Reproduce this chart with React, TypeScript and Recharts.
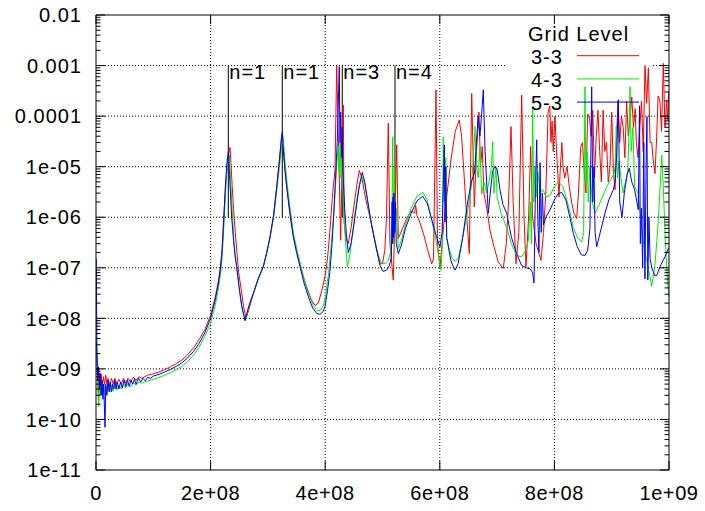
import React from 'react';
import { LineChart, Line, XAxis, YAxis, ReferenceLine, Legend } from 'recharts';

// frequency in MHz, response value
const SERIES_3_3: [number, number][] = [[0.5,3.5e-9],[1.5,1.5e-9],[3,6e-10],[4.5,2e-10],[6,8e-10],[7.5,5e-10],[9,8e-10],[11,4.5e-10],[13,7e-10],[15,5e-10],[17,7.5e-10],[19,5e-10],[21,6.5e-10],[24,4.5e-10],[27,6.5e-10],[30,5e-10],[33,6.5e-10],[36,5e-10],[40,6.2e-10],[44,5e-10],[48,6.5e-10],[52,5.2e-10],[56,6.5e-10],[60,5.5e-10],[65,6.8e-10],[70,6e-10],[75,7e-10],[80,6.5e-10],[90,7.5e-10],[100,8e-10],[110,8.7e-10],[120,9.7e-10],[130,1.1e-9],[140,1.27e-9],[150,1.5e-9],[160,1.9e-9],[170,2.6e-9],[180,3.8e-9],[190,6e-9],[200,1.15e-8],[208,2.6e-8],[213,5e-8],[217,1e-7],[220,2.3e-7],[223,1e-6],[226,4e-6],[229,1e-5],[231.5,1.8e-5],[233.9,2.4e-5],[235.5,1.2e-5],[237.5,4.5e-6],[240,1.5e-6],[243,5e-7],[246,2e-7],[249,8e-8],[253,4e-8],[258,1.6e-8],[262,1e-8],[266,1.4e-8],[270,2e-8],[274.5,3e-8],[283,6e-8],[292,1.05e-7],[298,2e-7],[303.7,4e-7],[310,1.1e-6],[315.4,4e-6],[320,1.3e-5],[324,4.3e-5],[327,2e-5],[330,8.5e-6],[333,4e-6],[338,1.3e-6],[344,4.5e-7],[350,2.2e-7],[356,1.2e-7],[363,6e-8],[370,3.5e-8],[376,2.3e-8],[382.2,1.8e-8],[388,2e-8],[394,3.5e-8],[400,7e-8],[404,1.5e-7],[408,5e-7],[413,3e-6],[417.1,8.5e-6],[420.1,1e-3],[427,3.5e-7],[431.6,1.65e-4],[433,8e-7],[436,4e-7],[440.3,3e-7],[445,6e-7],[450,1.6e-6],[455,4.2e-6],[459.5,8.4e-6],[464,6e-6],[470,2.5e-6],[480,8e-7],[488,3e-7],[495.6,1.2e-7],[500,1.2e-7],[504,2.2e-7],[507,1e-6],[510.1,7.2e-5],[513,3e-7],[518.8,5.7e-8],[524.8,2.7e-5],[527.6,3.8e-7],[535,6e-7],[543,1e-6],[551,1.35e-6],[556,1.2e-6],[558,1.7e-6],[560,1.1e-6],[565,8e-7],[572,4.5e-7],[579,2.2e-7],[585.9,1.2e-7],[589,1.5e-7],[593.4,3.3e-4],[596,3e-7],[600.3,1e-7],[604,3e-7],[608,1e-6],[614,4e-6],[620,1.5e-5],[627,5e-5],[634,8.4e-5],[638,4e-5],[642,8e-6],[646,1.5e-6],[651.5,1.9e-7],[655.7,2.8e-4],[660.2,1.6e-6],[664,2e-5],[668.4,1.2e-4],[671,1e-5],[674,2.5e-5],[677,3e-6],[682,1.5e-6],[687.6,5.5e-7],[695,2.5e-7],[702,1.3e-7],[710.8,9.7e-8],[716,3e-7],[720,2e-6],[724.3,6.2e-5],[728,2e-6],[733,1.2e-7],[738,5e-7],[742.9,2.6e-4],[747,1e-6],[750.4,1.05e-7],[755,1e-6],[758.6,2.5e-5],[762,1e-6],[768,3e-7],[776.6,1.4e-7],[781,5e-7],[785,3e-6],[789,1.2e-4],[792,1.6e-4],[794,3e-5],[796,8e-5],[798,2e-5],[801,1e-4],[803,3e-5],[806,7e-6],[808,2.5e-6],[810,8e-6],[813,3e-5],[815,1e-5],[818,6e-6],[822,1e-5],[826,4e-6],[830,2e-6],[834,1.2e-6],[838.9,9.4e-7],[842,3e-6],[846,2.5e-5],[849,3e-5],[852,8e-6],[855,3e-6],[858,1.1e-4],[861,1e-4],[864,4e-5],[867,1.3e-4],[870,6e-6],[873,4e-5],[876,1.3e-4],[879,2e-5],[882,5e-6],[885,1.3e-4],[888,2e-5],[891,3e-5],[894,5e-6],[897,1e-5],[900,1.2e-4],[903,8e-6],[905.8,3.5e-6],[908,3e-5],[911,2e-4],[914,3e-5],[917,1e-4],[920,6e-5],[923,1.5e-5],[926,2e-4],[929,4e-5],[932,9e-5],[935,2.4e-4],[938,6e-5],[941,1.4e-4],[943,3e-5],[946,1.5e-5],[949,6e-5],[952,2e-4],[955,2e-5],[958.1,1e-3],[961,1.8e-4],[964,9e-4],[967,3e-5],[970,3e-5],[972,1.5e-5],[975.6,7.3e-6],[978.5,4e-5],[981,2.5e-4],[984,2e-4],[987,5e-5],[990,1.1e-3],[993,6e-5],[996,2e-4],[998,8e-5],[999.5,3e-4]];

const SERIES_4_3: [number, number][] = [[0.5,3.5e-9],[1.5,2e-9],[3,7e-10],[4.5,1.8e-10],[6,6e-10],[7.5,3e-10],[9,5.5e-10],[11,3e-10],[13,5e-10],[15,3.2e-10],[17,4.5e-10],[19,3.5e-10],[21,5e-10],[24,3.5e-10],[27,4.8e-10],[30,3.6e-10],[33,5e-10],[36,3.8e-10],[40,4.8e-10],[44,4e-10],[48,5e-10],[52,4.2e-10],[56,5.2e-10],[60,4.4e-10],[65,5.3e-10],[70,4.8e-10],[75,5.5e-10],[80,5.2e-10],[90,5.8e-10],[100,6.2e-10],[110,6.8e-10],[120,7.5e-10],[130,8.5e-10],[140,9.7e-10],[150,1.12e-9],[160,1.4e-9],[170,1.85e-9],[180,2.7e-9],[190,4.4e-9],[200,8e-9],[208,1.8e-8],[213,3.5e-8],[217,7e-8],[220,1.5e-7],[223,6e-7],[226,3e-6],[229,1e-5],[232.6,1.7e-5],[234.5,7e-6],[237.5,1.5e-6],[241,3e-7],[244,1.4e-7],[246,9e-8],[251,3e-8],[255,1.5e-8],[261,9e-9],[266,1.6e-8],[270,2.2e-8],[275,3.2e-8],[284,6.5e-8],[292,1.1e-7],[298,2e-7],[304,4e-7],[310,1e-6],[316,3.8e-6],[321,1.2e-5],[324,2.5e-5],[326.3,3.9e-5],[328.5,2e-5],[331,9e-6],[334,4.2e-6],[339,1.4e-6],[345,4.5e-7],[351,2.2e-7],[357,1.15e-7],[364,5.5e-8],[371,3e-8],[379,1.8e-8],[386,1.4e-8],[392,1.45e-8],[397,1.8e-8],[401,3e-8],[406,8e-8],[410,2.5e-7],[414,8e-7],[418,4e-6],[421,1.5e-5],[423,2.5e-5],[424.5,8e-6],[426,3e-5],[427.5,6e-6],[429,2.1e-5],[430.5,4e-6],[432,1.5e-6],[435,4e-7],[438.6,1.05e-7],[442,1.5e-7],[447,4e-7],[452,1.2e-6],[458,3.5e-6],[464.7,6.3e-6],[469,4.5e-6],[475,1.7e-6],[482,6e-7],[490,2.2e-7],[497,1.3e-7],[504.4,1.2e-7],[510,1.4e-7],[514,2e-7],[516.5,1e-6],[517.8,3.9e-5],[519,3e-7],[520.5,1e-5],[522,5e-7],[524,1.5e-6],[527.6,2.4e-7],[533,3.5e-7],[540,7e-7],[550,1.5e-6],[560,2.6e-6],[570.2,3.1e-6],[578,2.2e-6],[586,8.5e-7],[594,3.2e-7],[600,1.2e-7],[602.1,9e-8],[604.5,3e-7],[606.1,3.9e-5],[607.5,2e-6],[609,6e-6],[610.5,1.5e-5],[612,4e-7],[616,2.5e-7],[621,1.6e-7],[626.5,1.35e-7],[632,1.5e-7],[640,4e-7],[648,1.2e-6],[655,4e-6],[658,1.2e-5],[661.4,6.2e-5],[664,1e-5],[667,6e-6],[670,2.5e-5],[673.1,2.9e-6],[677,5e-6],[682,3e-6],[687,6e-6],[690,1e-5],[692.3,3.1e-5],[694.5,3e-6],[698,1e-5],[700,2.5e-6],[707,1.2e-6],[716.7,6.3e-7],[725,3e-7],[734.2,1.75e-7],[742.9,1.65e-7],[750,2.2e-7],[754.5,3.5e-7],[758,2e-6],[760,3e-7],[762.1,1.5e-4],[764,2e-6],[766,1e-5],[768,2.5e-6],[771,8e-6],[775,3e-6],[780,3.5e-6],[785.3,2.5e-6],[792.3,2.7e-6],[800,4e-6],[806.8,5e-6],[815,4e-6],[825,1.6e-6],[833,6.3e-7],[840,4e-7],[847.6,3.2e-7],[851,5e-7],[853.4,3.8e-4],[855,5e-6],[857,2e-5],[859,2e-6],[862,1e-5],[866,2e-6],[870.9,1.2e-6],[880,2e-6],[891.3,4e-6],[900,6e-6],[904,7.3e-6],[906,1e-5],[908,6.4e-5],[910,6e-6],[913,1.3e-5],[916,6e-6],[920,3e-6],[924,5e-6],[928,8e-6],[930,4e-5],[932,3.8e-4],[934,2e-5],[937,6e-5],[940,4e-6],[946,3e-6],[952.3,6.3e-7],[958,2e-7],[963.9,1e-7],[969.8,4.3e-8],[975,1e-7],[980,5e-7],[984.3,3.5e-6],[987.3,1.7e-5],[990,4e-6],[993,5e-7],[996,1e-7],[999.5,2.7e-8]];

const SERIES_5_3: [number, number][] = [[0.5,1.5e-7],[1.5,3e-9],[3,6e-10],[4.5,1.1e-9],[6,4e-10],[7.5,8e-10],[9,3e-10],[10.5,6e-10],[12,2.5e-10],[13.5,5e-10],[15.7,7e-11],[17,5e-10],[19,3e-10],[21,6e-10],[23,3.5e-10],[25,5.5e-10],[27,3.5e-10],[29,5e-10],[31,4e-10],[33,6e-10],[35,4e-10],[37,5.5e-10],[40,4e-10],[43,5.5e-10],[46,4.2e-10],[49,6e-10],[52,4.5e-10],[55,6e-10],[58,4.5e-10],[61,6e-10],[64,5e-10],[67,6.2e-10],[70,5e-10],[74,6.5e-10],[78,5.5e-10],[82,6.5e-10],[86,5.8e-10],[90,6.8e-10],[95,6.5e-10],[100,7.2e-10],[110,7.8e-10],[120,8.7e-10],[130,9.8e-10],[140,1.12e-9],[150,1.32e-9],[160,1.65e-9],[170,2.2e-9],[180,3.2e-9],[190,5.2e-9],[200,1e-8],[208,2.3e-8],[213,4.5e-8],[217,9e-8],[220,2.1e-7],[223,9e-7],[226,4.5e-6],[228.5,1.2e-5],[231,2e-5],[233,7e-6],[236.8,1e-6],[240,3.5e-7],[242.5,1.8e-7],[245.5,1.05e-7],[250,4e-8],[254.3,1.8e-8],[260,9e-9],[265,1.5e-8],[269,2.1e-8],[274.5,3.1e-8],[283,6e-8],[292,1.05e-7],[298,2e-7],[303.7,4.1e-7],[310,1.1e-6],[315.4,4e-6],[320,1.3e-5],[323,3e-5],[325.1,4.9e-5],[327,2.2e-5],[330,8e-6],[332.8,4e-6],[338,1.3e-6],[344.3,4.1e-7],[350,2e-7],[356,1.05e-7],[363,5e-8],[370.5,2.7e-8],[378,1.6e-8],[385.2,1.25e-8],[390.9,1.2e-8],[396,1.35e-8],[399.6,1.7e-8],[404,3.5e-8],[408,8e-8],[412,3e-7],[415,1.2e-6],[418,6e-6],[421,3e-5],[424.6,9.5e-4],[425.8,3e-5],[427,1.2e-4],[428.3,1.5e-5],[429.5,6e-5],[431,8e-6],[434,1.5e-6],[437,4.5e-7],[440.3,2e-7],[445,3e-7],[450,7e-7],[455,1.8e-6],[460,4.5e-6],[464.7,7.7e-6],[469,5e-6],[474,2.2e-6],[480,8e-7],[488,2.8e-7],[495.6,1.1e-7],[501,8.5e-8],[507.3,9e-8],[512,1.1e-7],[515.5,1.6e-7],[516.8,2e-6],[517.6,3e-7],[518.4,2.5e-6],[519.2,4e-7],[520,3e-6],[521,5e-7],[522.3,2e-6],[524,3e-7],[527.6,1.9e-7],[533,2.8e-7],[540,6e-7],[550,1.2e-6],[560,2.1e-6],[570.2,2.6e-6],[578,1.9e-6],[586,9e-7],[594,4.2e-7],[600.3,2.6e-7],[604,5e-7],[607.9,2.7e-5],[609.2,8e-7],[610.5,1e-5],[612,4e-7],[616,2.2e-7],[620,1.3e-7],[626.5,9e-8],[632,1.2e-7],[640,4e-7],[648,1.8e-6],[655,5e-6],[660.6,7.5e-6],[664,3e-5],[666.8,1e-4],[670,4e-5],[673,1.1e-4],[675.9,3.3e-4],[679,2e-5],[684.6,1.2e-6],[688,3e-6],[692,8e-6],[696,1e-5],[700,9e-6],[705,3.5e-6],[710,1.8e-6],[716.7,1.2e-6],[725,4e-7],[734.2,1.9e-7],[742.9,1.1e-7],[751,1e-7],[757.4,9.5e-8],[762,8e-8],[764.4,5e-8],[766.5,2e-6],[769.1,3.4e-5],[771,1e-6],[773,2e-7],[775,1.2e-5],[777,5e-7],[779,3e-6],[781,7e-7],[785,1e-6],[792.3,1.4e-6],[800,2.2e-6],[806,2.9e-6],[812.7,3.1e-6],[820,2.2e-6],[827,1e-6],[833,4.8e-7],[840,2.6e-7],[847,1.8e-7],[853.4,1.75e-7],[858,2.2e-7],[862,6e-7],[865.1,3.8e-4],[867,2e-6],[869,1e-5],[871,5e-7],[873.8,2.6e-7],[880,5e-7],[888.3,1.2e-6],[895,2.2e-6],[902.8,3.5e-6],[906,5e-6],[909,2e-5],[911.5,2.1e-4],[914,2e-6],[918,1e-6],[922,3e-6],[927,7e-6],[930.7,9.3e-6],[935,5e-6],[940,3.5e-6],[944,2e-6],[946.4,1.4e-6],[948.5,1.6e-4],[950,3e-7],[952,1.5e-6],[954,1e-7],[956,3e-5],[958,6e-8],[960,1e-5],[961.5,9.8e-5],[963,5.7e-8],[965,1e-6],[967,1.5e-7],[970,1e-7],[975,7e-8],[978.5,7e-8],[985,1.1e-7],[993,1.65e-7],[999.5,2.5e-7]];

const SERIES_NAMES = ['3-3', '4-3', '5-3'];
const SERIES_COLORS = ['#ff0000', '#00ee00', '#0000ff'];
const LEGEND_TITLE = 'Grid Level';

const X_TICKS = [0, 2e8, 4e8, 6e8, 8e8, 1e9];
const X_TICK_LABELS = ['0', '2e+08', '4e+08', '6e+08', '8e+08', '1e+09'];
const Y_TICKS = [1e-11, 1e-10, 1e-9, 1e-8, 1e-7, 1e-6, 1e-5, 1e-4, 1e-3, 1e-2];
const Y_TICK_LABELS = ['1e-11', '1e-10', '1e-09', '1e-08', '1e-07', '1e-06', '1e-05', '0.0001', '0.001', '0.01'];
const MINOR_STEPS = [2, 3, 4, 5, 6, 7, 8, 9];

// resonance markers: frequency (MHz), label
const MARKER_FREQS = [230.9, 325.1, 429.8, 521.8];
const MARKER_LABELS = ['n=1', 'n=1', 'n=3', 'n=4'];
const MARKER_RANGE = [1e-6, 1e-3];

const FONT = '"Liberation Sans", Arial, Helvetica, sans-serif';
const FS = 20;
const LS = 1.0;

const toRows = (s: [number, number][]) => s.map(([f, v]) => ({ f: f * 1e6, v }));
const ALL = [SERIES_3_3, SERIES_4_3, SERIES_5_3].map(toRows);

const Y_ALL_TICKS: number[] = [];
Y_TICKS.forEach((d, i) => {
  Y_ALL_TICKS.push(d);
  if (i < Y_TICKS.length - 1) MINOR_STEPS.forEach((k) => Y_ALL_TICKS.push(k * d));
});

const majorIndex = (v: number) =>
  Y_TICKS.findIndex((m) => Math.abs(Math.log10(m) - Math.log10(v)) < 1e-6);

const textProps = { fontFamily: FONT, fontSize: FS, fill: '#000', letterSpacing: LS };

const LeftTick = (props: any) => {
  const { x, y, payload } = props;
  const idx = majorIndex(payload.value);
  const major = idx >= 0;
  return (
    <g>
      <line x1={x} x2={x + (major ? 9 : 4.5)} y1={y} y2={y} stroke="#000" strokeWidth={1} />
      {major && (
        <text x={x - 14} y={y} dy="0.36em" textAnchor="end" {...textProps}>
          {Y_TICK_LABELS[idx]}
        </text>
      )}
    </g>
  );
};

const RightTick = (props: any) => {
  const { x, y, payload } = props;
  const major = majorIndex(payload.value) >= 0;
  return <line x1={x} x2={x - (major ? 9 : 4.5)} y1={y} y2={y} stroke="#000" strokeWidth={1} />;
};

const BottomTick = (props: any) => {
  const { x, y, payload } = props;
  const idx = X_TICKS.indexOf(payload.value);
  return (
    <g>
      <line x1={x} x2={x} y1={y} y2={y - 9} stroke="#000" strokeWidth={1} />
      <text x={x} y={y + 30} textAnchor="middle" {...textProps} letterSpacing={0.6}>
        {X_TICK_LABELS[idx]}
      </text>
    </g>
  );
};

const TopTick = (props: any) => {
  const { x, y } = props;
  return <line x1={x} x2={x} y1={y} y2={y + 9} stroke="#000" strokeWidth={1} />;
};

const MarkerLabel = (props: any) => {
  const { viewBox, text } = props;
  if (!viewBox) return null;
  return (
    <text x={viewBox.x + 1} y={viewBox.y + 13} {...textProps}>
      {text}
    </text>
  );
};

const KeyBox = (props: any) => {
  const payload = props.payload || [];
  return (
    <svg width={705} height={140} style={{ position: 'absolute', left: 0, top: 0, overflow: 'visible' }}>
      <text x={528} y={41} {...textProps}>{LEGEND_TITLE}</text>
      {payload.map((p: any, i: number) => (
        <g key={i}>
          <text x={531} y={63.5 + i * 23.2} {...textProps}>{p.value}</text>
          <line x1={577} x2={639} y1={55.7 + i * 23.2} y2={55.7 + i * 23.2} stroke={p.color} strokeWidth={1} />
        </g>
      ))}
    </svg>
  );
};

const GRID = { stroke: '#000', strokeDasharray: '1 2', strokeWidth: 1 };

export default function App() {
  return (
    <div style={{ position: 'absolute', left: 0, top: 0, width: 705, height: 511, overflow: 'hidden' }}>
      <LineChart width={705} height={511} margin={{ top: 0, right: 0, bottom: 0, left: 0 }}>
        <XAxis
          xAxisId="b"
          dataKey="f"
          type="number"
          domain={[0, 1e9]}
          allowDataOverflow
          ticks={X_TICKS}
          interval={0}
          orientation="bottom"
          height={41}
          tickSize={0}
          tickMargin={0}
          tickLine={false}
          tick={<BottomTick />}
          axisLine={{ stroke: '#000', strokeWidth: 1 }}
        />
        <XAxis
          xAxisId="t"
          dataKey="f"
          type="number"
          domain={[0, 1e9]}
          allowDataOverflow
          ticks={X_TICKS}
          interval={0}
          orientation="top"
          height={15}
          tickSize={0}
          tickMargin={0}
          tickLine={false}
          tick={<TopTick />}
          axisLine={{ stroke: '#000', strokeWidth: 1 }}
        />
        <YAxis
          yAxisId="l"
          type="number"
          scale="log"
          domain={[1e-11, 1e-2]}
          allowDataOverflow
          ticks={Y_ALL_TICKS}
          interval={0}
          orientation="left"
          width={96}
          tickSize={0}
          tickMargin={0}
          tickLine={false}
          tick={<LeftTick />}
          axisLine={{ stroke: '#000', strokeWidth: 1 }}
        />
        <YAxis
          yAxisId="r"
          type="number"
          scale="log"
          domain={[1e-11, 1e-2]}
          allowDataOverflow
          ticks={Y_ALL_TICKS}
          interval={0}
          orientation="right"
          width={36}
          tickSize={0}
          tickMargin={0}
          tickLine={false}
          tick={<RightTick />}
          axisLine={{ stroke: '#000', strokeWidth: 1 }}
        />

        {Y_TICKS.slice(1, -1).filter((v) => v !== 1e-3).map((v) => (
          <ReferenceLine key={'h' + v} xAxisId="b" yAxisId="l" y={v} {...GRID} />
        ))}
        <ReferenceLine xAxisId="b" yAxisId="l" segment={[{ x: 0, y: 1e-3 }, { x: 717e6, y: 1e-3 }]} {...GRID} />
        <ReferenceLine xAxisId="b" yAxisId="l" segment={[{ x: 972e6, y: 1e-3 }, { x: 1e9, y: 1e-3 }]} {...GRID} />
        {X_TICKS.slice(1, -1).filter((v) => v !== 8e8).map((v) => (
          <ReferenceLine key={'v' + v} xAxisId="b" yAxisId="l" x={v} {...GRID} />
        ))}
        <ReferenceLine xAxisId="b" yAxisId="l" segment={[{ x: 8e8, y: 1e-11 }, { x: 8e8, y: 1e-4 }]} {...GRID} />

        {MARKER_FREQS.map((f, i) => (
          <ReferenceLine
            key={'m' + i}
            xAxisId="b"
            yAxisId="l"
            segment={[{ x: f * 1e6, y: MARKER_RANGE[0] }, { x: f * 1e6, y: MARKER_RANGE[1] }]}
            stroke="#000"
            strokeWidth={1}
            label={<MarkerLabel text={MARKER_LABELS[i]} />}
          />
        ))}

        {ALL.map((rows, i) => (
          <Line
            key={SERIES_NAMES[i]}
            xAxisId="b"
            yAxisId="l"
            data={rows}
            dataKey="v"
            name={SERIES_NAMES[i]}
            stroke={SERIES_COLORS[i]}
            strokeWidth={1}
            dot={false}
            activeDot={false}
            type="linear"
            isAnimationActive={false}
          />
        ))}
        <Legend
          layout="vertical"
          align="center"
          verticalAlign="middle"
          wrapperStyle={{ position: 'absolute', left: 0, top: 0, width: 705, height: 140, margin: 0, padding: 0 }}
          content={(p: any) => <KeyBox payload={p.payload} />}
        />
      </LineChart>
    </div>
  );
}
